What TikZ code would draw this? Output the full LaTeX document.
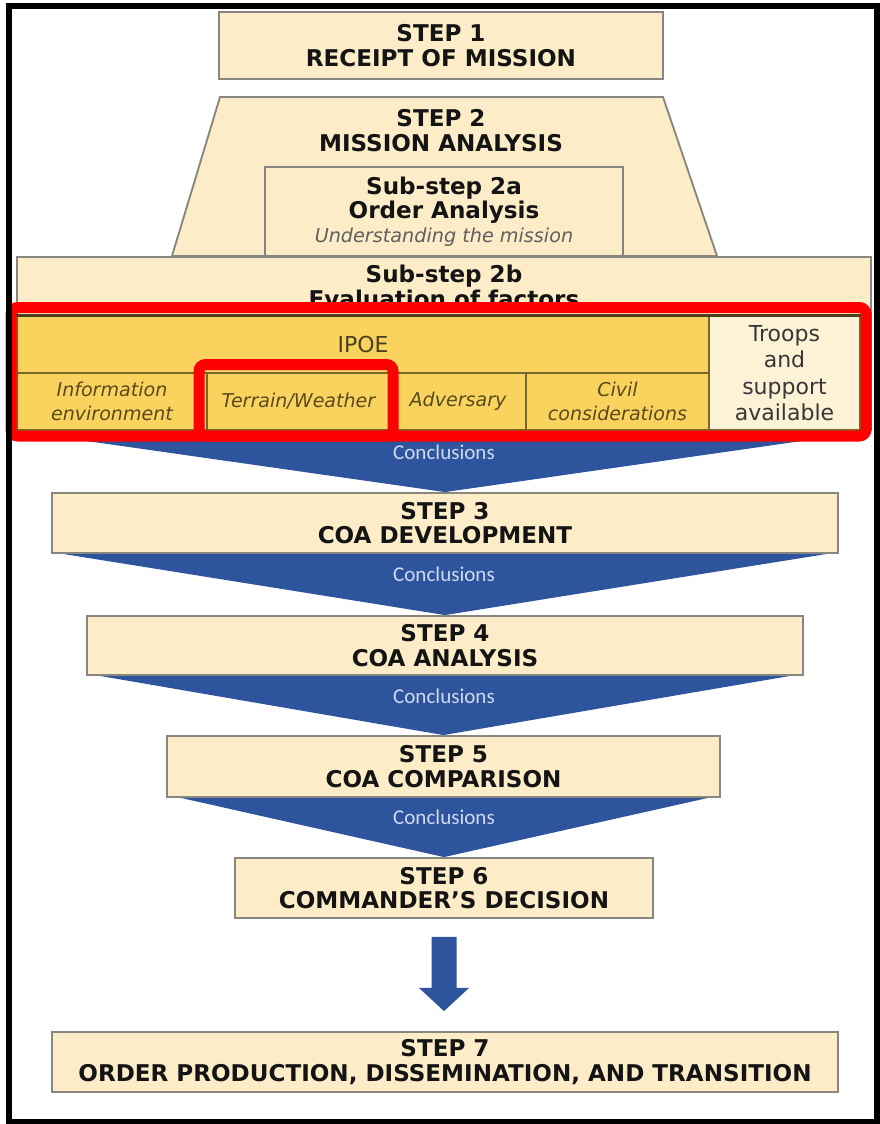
\documentclass[tikz,border=0pt]{standalone}
\usepackage{fontspec}
\setmainfont{DejaVu Sans}
\newfontfamily\concfont{Carlito}
\usetikzlibrary{calc}

\definecolor{cream}{RGB}{252,237,200}
\definecolor{creamlight}{RGB}{253,242,214}
\definecolor{boxline}{RGB}{135,135,125}
\definecolor{gold}{RGB}{250,211,95}
\definecolor{olive}{RGB}{120,102,42}
\definecolor{olivedark}{RGB}{75,64,28}
\definecolor{olivetext}{RGB}{88,74,28}
\definecolor{navy}{RGB}{46,84,158}
\definecolor{conctext}{RGB}{205,218,240}
\definecolor{framered}{RGB}{255,0,0}
\definecolor{inkdark}{RGB}{20,20,20}
\definecolor{subgray}{RGB}{95,95,95}
\definecolor{troopink}{RGB}{55,55,55}

\pgfdeclarelayer{paper}
\pgfdeclarelayer{under}
\pgfsetlayers{paper,under,main}

\tikzset{
  bw/.style={minimum width=#1*0.75pt},
  bh/.style={minimum height=#1*0.75pt},
  stepbox/.style={draw=boxline, line width=1.4pt, fill=cream, inner sep=0pt,
    align=center, text=inkdark, font=\fontsize{17.3}{18.6}\selectfont\bfseries},
  steptext/.style={inner sep=0pt, align=center, text=inkdark,
    font=\fontsize{17.3}{18.6}\selectfont\bfseries},
  ipoecell/.style={draw=olive, line width=1.1pt, fill=gold, inner sep=0pt,
    align=center, text=olivetext, font=\fontsize{14.3}{17.5}\selectfont\itshape},
  chevron/.style={fill=navy},
  conc/.style={inner sep=0pt, text=conctext, font=\concfont\fontsize{15.8}{17}\selectfont},
  redframe/.style={draw=framered, line width=8.25pt, rounded corners=5pt}
}

\begin{document}
\begin{tikzpicture}[x=0.75pt,y=-0.75pt]
\useasboundingbox (0,0) rectangle (879,1124);
\begin{pgfonlayer}{paper}
  \fill[white] (0,0) rectangle (879,1124);
\end{pgfonlayer}

% Step 1
\node[stepbox, bw=444, bh=67] (s1) at (441,45.5) {STEP 1\\RECEIPT OF MISSION};

% Step 2: trapezoid with its two sub-steps
\draw[draw=boxline, line width=1.4pt, fill=cream]
  (220,97) -- (663,97) -- (717,256) -- (172,256) -- cycle;
\node[steptext] (s2) at (441,131) {STEP 2\\MISSION ANALYSIS};
\node[stepbox, bw=358, bh=89] (s2a) at (444,211.5)
  {Sub-step 2a\\Order Analysis\\[-1pt]
   {\fontsize{14.4}{17}\selectfont\mdseries\itshape\color{subgray}Understanding the mission}};
\node[stepbox, bw=854, bh=173] (s2b) at (444,343.5) {};
\node[steptext] (s2btxt) at (444,286) {Sub-step 2b\\Evaluation of factors};

% IPOE table
\node[ipoecell, bw=692, bh=57, font=\fontsize{16.5}{18}\selectfont, text=olivedark]
  (ipoe) at (363,344.5) {IPOE};
\node[ipoecell, bw=190, bh=57] (c1) at (112,401.5) {Information\\environment};
\node[ipoecell, bw=183, bh=57] (c2) at (298.5,401.5) {Terrain/Weather};
\node[ipoecell, bw=136, bh=57] (c3) at (458,401.5) {Adversary};
\node[ipoecell, bw=183, bh=57] (c4) at (617.5,401.5) {Civil\\considerations};
\node[ipoecell, fill=creamlight, bw=151, bh=114, text=troopink,
  font=\fontsize{16.5}{19.7}\selectfont] (troops) at (784.5,373)
  {Troops\\and\\support\\available};
\draw[olivedark, line width=2.2pt] (ipoe.north west) -- (troops.north east);

% Steps 3 to 7
\node[stepbox, bw=786, bh=60] (s3) at (445,523) {STEP 3\\COA DEVELOPMENT};
\node[stepbox, bw=716, bh=59] (s4) at (445,645.5) {STEP 4\\COA ANALYSIS};
\node[stepbox, bw=553, bh=61] (s5) at (443.5,766.5) {STEP 5\\COA COMPARISON};
\node[stepbox, bw=418, bh=60] (s6) at (444,888) {STEP 6\\COMMANDER'S DECISION};
\node[stepbox, bw=786, bh=60] (s7) at (445,1062)
  {STEP 7\\ORDER PRODUCTION, DISSEMINATION, AND TRANSITION};

% Conclusion chevrons between the steps
\begin{pgfonlayer}{under}
  \fill[chevron] (s2b.south west) -- (s2b.south east) -- (s3.north) -- cycle;
  \fill[chevron] ($(s3.south west)+(12,0)$) -- ($(s3.south east)+(-12,0)$) -- (s4.north) -- cycle;
  \fill[chevron] ($(s4.south west)+(14,0)$) -- ($(s4.south east)+(-14,0)$) -- (s5.north) -- cycle;
  \fill[chevron] ($(s5.south west)+(15,0)$) -- ($(s5.south east)+(-13,0)$) -- (s6.north) -- cycle;
\end{pgfonlayer}
\node[conc] (cn1) at (444,452) {Conclusions};
\node[conc] (cn2) at (444,574) {Conclusions};
\node[conc] (cn3) at (444,696) {Conclusions};
\node[conc] (cn4) at (444,817) {Conclusions};

% Block arrow from step 6 to step 7
\fill[navy] ($(s6.south)+(-12.5,18)$) -- ($(s6.south)+(12.5,18)$)
  -- ($(s6.south)+(12.5,69)$) -- ($(s6.south)+(25,69)$)
  -- ($(s7.north)+(-1,-20)$)
  -- ($(s6.south)+(-25,69)$) -- ($(s6.south)+(-12.5,69)$) -- cycle;

% Highlight frames
\draw[redframe] (11,307.5) rectangle (866,436);
\draw[redframe] (199,364.5) rectangle (393,436);

% Outer border
\draw[black, line width=4.5pt] (9,6.5) rectangle (876.5,1121.5);
\end{tikzpicture}
\end{document}
